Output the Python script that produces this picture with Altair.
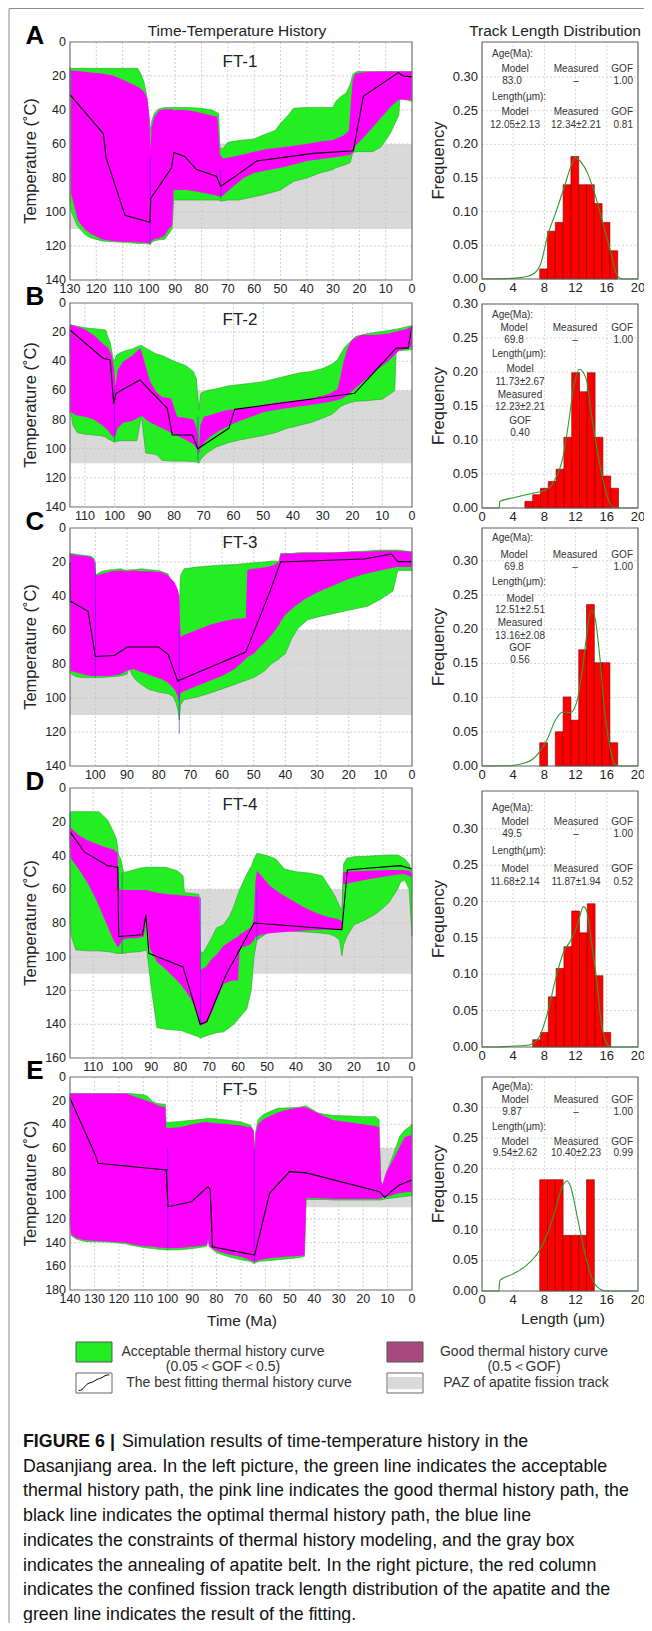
import altair as alt
import pandas as pd

W, H = 636, 1615
FONT = "Liberation Sans, Arial, Helvetica, sans-serif"
ONE = pd.DataFrame({"k": [0]})

# ================= FT-1 (A) =================
ft1_green_t = [130, 129.4, 127.3, 124.5, 122.5, 118, 114, 108, 104.3, 103, 102, 101, 100.2, 99.4, 99, 98, 96.5, 94, 92.5, 91.2, 90.6, 86, 80, 76, 73.5, 73, 72, 70, 66, 60, 57, 52, 50, 47, 45, 40, 35, 30, 29, 27, 25, 23.5, 22.5, 21, 15, 12, 10, 8, 6.5, 5, 4.6, 0]
ft1_green_top = [15.5, 15.5, 15.5, 15.5, 15.5, 15.5, 15.5, 15.5, 15.5, 19, 23, 30, 40, 52, 47, 42, 39.5, 38.5, 38.5, 38.5, 38.5, 38.5, 39, 40, 42, 62, 63, 59, 58, 57, 55, 52, 48, 43, 39, 38.5, 38.5, 38.5, 35, 32, 30, 25, 19, 17.4, 17.4, 17.4, 17.4, 17.4, 17.4, 17.4, 17.4, 17.4]
ft1_green_bot = [95, 100, 108, 113, 115, 117, 117.5, 118, 118.5, 118.5, 118.5, 118.5, 119, 119, 118, 117, 116.5, 116, 113, 110, 93, 93, 93, 93, 93, 93.5, 93.5, 93, 93, 91, 90, 88, 87, 84, 82, 80, 77, 75, 74, 73, 72, 71, 65, 64.5, 64.5, 62, 58, 53, 48, 43, 33, 35]
ft1_good_t = [129.6, 127, 124.5, 122, 118, 114, 110, 106, 104, 102, 100.6, 99.8, 99.4, 99, 98, 96, 94, 92.5, 91.2, 90.6, 86, 82, 77, 74, 73, 72, 68, 64, 60, 55, 50, 45, 40, 35, 30, 26, 24, 23.2, 22.5, 21.5, 19, 16, 12, 8, 5, 0]
ft1_good_top = [16.8, 17, 17.5, 18, 18.5, 19.5, 22, 25, 26.5, 29, 33, 45, 64, 50, 44, 40, 39.5, 39.5, 39.5, 40, 40, 41, 43, 44, 66, 68.5, 67.5, 66, 64.5, 63, 62, 61, 60, 58.6, 57.6, 55, 52, 35, 22, 18.5, 18, 17.5, 17.4, 17.4, 17.4, 17.4]
ft1_good_bot = [89, 105, 110, 113, 116, 117, 117.5, 117.5, 118, 118, 118.2, 118.3, 118.3, 117, 116, 115.5, 114, 110, 108, 87, 87, 88, 89.5, 90.5, 91, 90.5, 85, 80, 77, 75.5, 74, 72, 70, 69, 68, 67, 66.5, 66, 65, 61, 57, 52, 45, 38, 34, 34]
ft1_best_t = [130, 117.3, 116.3, 109.1, 99.6, 99.3, 91.4, 90.5, 86.3, 81.9, 74.3, 72.7, 59, 37.5, 22.3, 18.5, 5.2, 3.3, 0]
ft1_best_T = [31, 54, 68, 102, 106, 92, 74, 65, 67.5, 75, 79, 85, 70, 65.5, 64, 32, 18, 20, 20.5]
ft1_con_t = [130, 99.5, 72.7]
ft1_con_lo = [15, 68, 75]
ft1_con_hi = [33, 119, 92]

# ================= FT-2 (B) =================
ft2_green_t = [115, 114.6, 114, 112.5, 110, 105, 103, 102.5, 101.5, 100.5, 100, 99.5, 98, 96, 94, 92.5, 91, 90.3, 89.5, 86, 84, 80, 76, 73.5, 72.5, 71.7, 71, 69, 66, 62, 58, 54, 50, 46, 42, 38, 34, 30, 27, 25, 24, 22.5, 21, 19, 15, 10, 7, 5.8, 5.3, 0]
ft2_green_top = [15, 15, 15.5, 16, 17, 18, 18.5, 22, 27, 38, 40, 36, 34, 32.5, 31.5, 30, 29, 30, 31, 35, 36, 40, 43, 47, 52, 73, 62, 60, 59, 57, 56, 55, 54, 52, 50, 48, 47, 45, 42, 39, 35, 30, 27, 23, 21, 19.5, 18.5, 18, 18, 15.5]
ft2_green_bot = [76, 76, 84, 89, 90, 91, 92, 93, 94, 95, 95.5, 95, 94.5, 94.5, 94.5, 94.5, 77, 90, 103, 104, 108, 108.5, 108.5, 108.8, 109, 110, 107, 103, 99, 96, 94, 92.5, 91, 89, 86, 84, 82, 79, 76.5, 73, 71, 69.5, 68.5, 67.5, 67, 66, 62, 60, 33, 32]
ft2_good_t = [115, 114.6, 113, 110, 107, 104, 102, 101, 100.2, 99.7, 99, 97, 94, 91.5, 91, 89.5, 88, 86, 84, 81, 79, 76, 73.5, 72.3, 71.7, 71.2, 70, 68, 65, 62, 58, 54, 50, 46, 40, 34, 28, 25, 24, 23, 21.5, 20, 17, 12, 8, 4.5, 2, 0]
ft2_good_top = [15, 15, 16, 18, 22, 28, 31, 36, 45, 57, 46, 40, 36, 31, 33, 44, 54, 61, 64.5, 65.5, 78, 79, 80, 87, 103, 84, 78, 77, 75, 73.5, 72.5, 71.5, 70, 68.5, 67, 65.5, 62.5, 59, 50, 40, 30, 25, 22, 22, 21, 19, 18, 16]
ft2_good_bot = [75, 75, 77, 78, 80, 84, 88, 91, 92, 91, 86, 82, 81, 78, 77, 80, 82, 84, 86, 89, 91, 94, 97, 100, 104, 100, 96, 92, 88, 84.5, 81, 78, 75, 73.5, 71.5, 70, 68, 66.5, 66, 65, 63, 60, 55, 46, 40, 33, 31, 30]
ft2_best_t = [115, 103.8, 101.5, 100.3, 99.5, 91.5, 82.3, 80.6, 73.9, 72, 61.6, 59.6, 19.3, 5.3, 1.3, 0]
ft2_best_T = [18.5, 38, 39, 69, 62, 52.8, 72.3, 90.6, 90.6, 100, 86, 73, 62, 31, 31, 16]
ft2_con_t = [115, 100, 72]
ft2_con_lo = [16, 58, 78]
ft2_con_hi = [35, 95, 108]

# ================= FT-3 (C) =================
ft3_green_t = [108, 107.5, 106, 104, 101.5, 100.4, 99.9, 98, 95, 92, 90, 89.3, 88.5, 87.5, 85.5, 83, 80, 77, 75.5, 74.5, 73.8, 73.5, 73.1, 72, 68, 62, 56, 50, 46.5, 44.5, 42, 41.5, 40, 38, 36, 33, 29, 24, 19, 14, 10, 6, 4.5, 0]
ft3_green_top = [15, 15, 15.5, 16, 16.5, 18, 27.5, 25.5, 24.5, 24, 25, 24.5, 24.5, 24.5, 24, 24.5, 25, 27, 35, 37, 45, 47.5, 28, 24, 23, 22, 21.5, 20.5, 20, 19.5, 19.5, 15, 15, 15, 14.5, 14.5, 14.5, 14.5, 14, 13.5, 13, 13, 13, 14]
ft3_green_bot = [85, 86, 87.5, 88, 88, 88, 88, 88, 87.5, 87, 86, 82, 86, 89, 92, 95, 96.5, 97.5, 99, 103, 108, 113, 104, 101, 99.5, 96, 92, 88, 84, 80, 77, 76, 74, 65, 59, 54, 52, 50, 48, 46, 42, 37, 25, 25]
ft3_good_t = [108, 106, 103, 101.5, 100.4, 99.9, 98, 95, 92, 90, 88, 85, 82, 79, 77, 75, 74, 73.5, 73.1, 72, 68, 64, 60, 56, 52.5, 52, 50, 48, 46, 44, 42, 41.5, 40, 37, 34, 30, 25, 20, 15, 10, 5, 0]
ft3_good_top = [15.5, 16, 16.5, 17, 18.5, 28, 27, 25.5, 25, 25.5, 25, 25.5, 25.5, 26, 28, 32, 36, 40, 64, 63, 60, 57, 55, 53.5, 53, 24.5, 24, 23.5, 23, 22, 20, 15.5, 15, 15, 14.5, 14.5, 14.5, 14, 14, 13.5, 13.5, 14]
ft3_good_bot = [84, 85, 86.5, 87, 87, 87, 87, 87, 86, 84, 83, 85, 87, 89, 91, 95, 99, 103, 97, 96, 93, 90, 87, 83, 77, 76, 74, 70, 66.5, 62, 57, 55, 51, 46, 42, 38, 34, 30, 27, 25, 23, 23]
ft3_best_t = [108, 107.9, 102.3, 100, 94, 89.9, 80, 77, 74, 52.5, 45, 41.5, 15, 6.5, 4.5, 0]
ft3_best_T = [20, 43, 49, 75.6, 75, 70, 70, 74.5, 90, 73, 38, 20, 18.2, 15.3, 19.8, 19.8]
ft3_con_t = [108, 100, 73.5]
ft3_con_lo = [15, 20, 60]
ft3_con_hi = [45, 88, 121]

# ================= FT-4 (D) =================
ft4_green_t = [118, 117.5, 116, 112, 108, 105, 103, 102, 101.2, 100.5, 99.5, 98, 94, 91.5, 90, 89, 88, 85, 81, 79, 78.5, 73.5, 73.1, 72, 69.5, 67.5, 65, 63, 61.5, 59.5, 57, 55.5, 54.5, 53.5, 50, 47, 44, 40, 35, 31, 28.5, 26.5, 25, 24.2, 23.6, 22.5, 20, 16, 12, 8, 5, 4, 2.5, 1, 0]
ft4_green_top = [14, 14, 14, 14, 14, 19, 26, 30, 40, 42, 50, 49.5, 47.5, 47, 47, 47, 47, 47, 49, 52, 62, 63, 97, 97.5, 90, 83, 81, 76, 70.3, 60.4, 51, 46.6, 42, 38.7, 40, 42, 48, 49.6, 50.5, 52, 58.5, 64.4, 70, 72.3, 45, 41.7, 40.7, 40.5, 40, 39.7, 39.7, 40.5, 42, 45, 50]
ft4_green_bot = [80, 88, 96, 96.5, 96.5, 97, 97.5, 98, 98, 98, 98, 97.5, 97, 96, 118, 130, 142, 143, 143.5, 144, 144.5, 147.5, 148.5, 147.5, 146, 145, 144.5, 142, 140, 136, 131, 120, 100, 90, 86, 84, 84.5, 85, 85.5, 86, 86.5, 88, 90, 99.5, 93, 88, 81, 78, 74, 68, 60, 56, 54.5, 60, 88]
ft4_good_t = [118, 117.5, 115, 112, 109, 106, 103, 101.6, 101.2, 100, 98, 95, 92.5, 91.5, 90.5, 88, 84, 80, 77, 74.5, 73.3, 73, 71, 69, 67.5, 65, 62, 60, 59.5, 56, 55, 54.5, 54, 53.5, 52, 49, 45, 41, 37, 33, 29, 26, 24.5, 24.2, 23.8, 22, 15, 8, 3, 1, 0]
ft4_good_top = [23, 24, 28, 31, 33, 35, 36.5, 38.5, 60, 60.4, 60.4, 60.4, 60.4, 60.4, 61, 62, 63, 63.5, 64, 64.4, 64.4, 107.8, 105.8, 101, 99, 93.5, 90, 88, 87, 83, 81, 75, 55, 49, 52, 58, 63, 67, 71, 74, 76.5, 77.5, 78.5, 79, 50, 49.5, 49, 48.6, 48.6, 49, 51]
ft4_good_bot = [35, 42, 48, 56, 66, 78, 90, 94, 94, 90, 89, 89, 88, 76, 95, 103, 109, 116, 123, 131, 140, 141, 139, 133, 126, 116, 114, 114, 95, 93, 91, 90, 88, 88, 87, 86, 85.5, 85, 84.5, 84, 84, 84, 84, 84, 57, 56.5, 54, 52, 51, 52, 53]
ft4_best_t = [118, 113, 105, 101.5, 101.2, 93, 91.8, 90.8, 79, 73.1, 70.8, 64, 59.5, 54.5, 24.2, 22.3, 15.5, 4, 0]
ft4_best_T = [26, 38, 46, 47, 88, 87, 75, 98, 106, 140, 138.5, 110, 96, 80, 84, 48.6, 47.6, 46, 48]
ft4_con_t = [118, 100, 73, 53.5]
ft4_con_lo = [15, 50, 65, 60]
ft4_con_hi = [35, 98, 140, 90]

# ================= FT-5 (E) =================
ft5_green_t = [140, 139.5, 137.5, 134, 125, 117, 115.5, 110, 108.5, 106, 104, 101, 100.6, 95, 90, 85, 84, 83.5, 83, 80, 75, 70, 66, 64.8, 64.4, 64, 63, 61, 58, 55, 50, 46, 44, 43.3, 42, 39, 36, 32, 25, 20, 15, 13.5, 12.7, 12, 11, 9, 7, 5, 3, 1, 0]
ft5_green_top = [14, 14, 14, 14, 14, 14, 14, 15, 16, 21, 22.5, 23, 38.6, 37.5, 36.5, 35.5, 35, 35, 35, 35.5, 36.5, 38, 41, 46, 62, 46, 36, 32, 29, 26.5, 26, 25.5, 24.5, 24.5, 26, 30, 31.5, 32.5, 33, 33.5, 33.5, 36, 88, 91, 84, 73, 62, 50, 45, 42, 40]
ft5_green_bot = [124, 134, 137, 139, 139.5, 141, 142, 144, 144.5, 145, 145.5, 146, 146.2, 146, 145, 143.5, 143, 137, 143.5, 148.5, 152, 154.5, 156, 157.5, 157.5, 157, 156, 155.5, 155, 154.5, 153.5, 152.5, 151.5, 103.5, 103.5, 103.5, 103.5, 104, 104, 104, 104, 104, 104, 103.5, 103, 102.5, 102, 101.5, 101, 100.5, 100]
ft5_good_t = [140, 139.5, 137.5, 134, 125, 117, 115.5, 113, 110, 106, 104, 101, 100.6, 95, 90, 86, 84, 83.5, 83, 80, 75, 70, 66, 64.8, 64.4, 64, 63, 61, 58, 55, 52, 48, 45, 44, 43.3, 40, 36, 32, 25, 20, 15, 13.5, 12.7, 12, 10.5, 9, 7, 5, 3, 1, 0]
ft5_good_top = [14, 14, 14, 14, 14, 14, 15, 17, 19, 22, 24, 25.5, 43.4, 42.5, 40, 38.5, 38, 38.5, 38.5, 39, 40, 41, 42.5, 45, 64, 48, 40, 36, 33, 30, 28, 26.5, 25.5, 25.5, 26, 29, 33, 36.5, 38.5, 40, 41.5, 42.5, 88, 91, 80, 75, 67, 59, 51, 49.5, 49]
ft5_good_bot = [120, 133, 136, 138, 139, 140, 141, 142, 143, 143.5, 144, 144.5, 144.8, 144.5, 143.5, 142.5, 142, 136, 143, 147, 150, 152, 155, 156, 156.5, 156, 155, 154, 153, 152.5, 152, 151.5, 151, 150.5, 102.5, 102.5, 102.7, 103, 103, 103, 103, 103, 102.5, 102, 101.5, 100.5, 99, 98, 97.5, 97, 97]
ft5_best_t = [140, 129.9, 128.5, 100.6, 99.9, 90.3, 83.5, 82.6, 81.7, 64.4, 58.3, 50.1, 43.3, 13.2, 11.2, 7.8, 5.1, 0]
ft5_best_T = [18, 64.6, 72.9, 78.5, 109.6, 105.4, 92.7, 95.5, 143.4, 150.5, 98.3, 80, 81, 97, 101.7, 95.5, 91.3, 87.1]
ft5_con_t = [140, 100, 64.5]
ft5_con_lo = [14, 60, 60]
ft5_con_hi = [30, 145, 156]

paz_range = [60, 110]

# ================= Track length histograms =================
h1_edges = [7.4, 8.4, 9.4, 10.4, 11.4, 12.4, 13.4, 14.4, 15.4, 16.4, 17.4]
h1_freq = [0.015, 0.071, 0.084, 0.14, 0.182, 0.14, 0.14, 0.112, 0.084, 0.042]
h1_fit_len = [0, 3, 5, 6.5, 7.5, 8.5, 9.5, 10.5, 11.5, 12, 12.5, 13.5, 14.5, 15.5, 16.5, 17.3, 18, 20]
h1_fit_f = [0, 0.0005, 0.002, 0.007, 0.022, 0.068, 0.1, 0.135, 0.17, 0.18, 0.176, 0.158, 0.125, 0.083, 0.04, 0.006, 0, 0]

h2_edges = [5.5, 6.5, 7.5, 8.5, 9.5, 10.5, 11.5, 12.5, 13.5, 14.5, 15.5, 16.5, 17.5]
h2_freq = [0.0098, 0.0196, 0.029, 0.039, 0.057, 0.104, 0.199, 0.171, 0.199, 0.104, 0.047, 0.029]
h2_fit_len = [0, 2.2, 2.3, 4, 6.6, 8.3, 9.1, 10.4, 11.1, 11.7, 12.5, 13.4, 14, 14.7, 15.5, 16.2, 16.8, 17.5, 20]
h2_fit_f = [0, 0, 0.0098, 0.015, 0.022, 0.027, 0.037, 0.076, 0.125, 0.174, 0.204, 0.188, 0.14, 0.09, 0.042, 0.012, 0.001, 0, 0]

h3_edges = [7.4, 8.4, 9.4, 10.4, 11.4, 12.4, 13.4, 14.4, 15.4, 16.4, 17.4]
h3_freq = [0.034, 0, 0.05, 0.101, 0.067, 0.17, 0.236, 0.151, 0.151, 0.034]
h3_fit_len = [0, 3, 5, 6.6, 7.4, 8.4, 9.4, 10.4, 11.3, 12.1, 12.8, 13.4, 14, 14.5, 15.1, 15.7, 16.4, 17, 17.7, 20]
h3_fit_f = [0, 0.0003, 0.003, 0.011, 0.021, 0.04, 0.067, 0.079, 0.078, 0.092, 0.135, 0.189, 0.228, 0.216, 0.16, 0.082, 0.028, 0.003, 0, 0]

h4_edges = [6.5, 7.5, 8.5, 9.5, 10.5, 11.5, 12.5, 13.5, 14.5, 15.5, 16.5]
h4_freq = [0.01, 0.02, 0.069, 0.108, 0.138, 0.187, 0.157, 0.197, 0.098, 0.02]
h4_fit_len = [0, 2, 3.6, 5.5, 6.5, 7.4, 8.4, 9.4, 10.4, 11.4, 12.3, 13, 13.4, 14, 14.7, 15.3, 16, 16.6, 20]
h4_fit_f = [0, 0, 0.001, 0.002, 0.0046, 0.015, 0.047, 0.092, 0.129, 0.147, 0.17, 0.193, 0.188, 0.147, 0.092, 0.033, 0.005, 0, 0]

h5_edges = [7.4, 8.4, 9.4, 10.4, 11.4, 12.4, 13.4, 14.4]
h5_freq = [0.182, 0.182, 0.182, 0.091, 0.091, 0.091, 0.182]
h5_fit_len = [0, 2.15, 2.3, 4, 5.7, 7.4, 8.4, 9.4, 10.3, 10.9, 11.3, 12.3, 13.3, 14.3, 15.3, 16, 20]
h5_fit_f = [0, 0, 0.0175, 0.028, 0.042, 0.067, 0.094, 0.132, 0.171, 0.18, 0.173, 0.116, 0.056, 0.015, 0.002, 0, 0]

# annotation strings
ages_model = ["83.0", "69.8", "69.8", "49.5", "9.87"]
len_model = ["12.05±2.13", "11.73±2.67", "12.51±2.51", "11.68±2.14", "9.54±2.62"]
len_meas = ["12.34±2.21", "12.23±2.21", "13.16±2.08", "11.87±1.94", "10.40±2.23"]
len_gof = ["0.81", "0.40", "0.56", "0.52", "0.99"]

hist_xticks = [0, 4, 8, 12, 16, 20]
hist_yticks = [0, 0.05, 0.10, 0.15, 0.20, 0.25, 0.30]

caption_lines = [
    "Simulation results of time-temperature history in the",
    "Dasanjiang area. In the left picture, the green line indicates the acceptable",
    "thermal history path, the pink line indicates the good thermal history path, the",
    "black line indicates the optimal thermal history path, the blue line",
    "indicates the constraints of thermal history modeling, and the gray box",
    "indicates the annealing of apatite belt. In the right picture, the red column",
    "indicates the confined fission track length distribution of the apatite and the",
    "green line indicates the result of the fitting.",
]

GREEN = "#22ee22"
MAGENTA = "#ff00ff"
PAZ = "#d9d9d9"
TXT = "#222222"


def tt_panel(letter, name, tmax, Tmax, top, bot, xticks, yticks,
             g_t, g_top, g_bot, m_t, m_top, m_bot, b_t, b_T, c_t, c_lo, c_hi,
             name_off, xtitle=None, header=False):
    X0, X1 = 70, 412
    sx = alt.Scale(domain=[0, tmax], range=[X1 - 8, X0 - 8], nice=False, zero=False)
    sy = alt.Scale(domain=[0, Tmax], range=[top - 8, bot - 8], nice=False, zero=False)

    def dt(p):
        return tmax * (X1 - p) / (X1 - X0)

    def dT(p):
        return Tmax * (p - top) / (bot - top)

    def xq(f):
        return alt.X(f, scale=sx, axis=None)

    def yq(f):
        return alt.Y(f, scale=sy, axis=None)

    def xd(v):
        return alt.XDatum(v, scale=sx, axis=None)

    def yd(v):
        return alt.YDatum(v, scale=sy, axis=None)

    layers = []
    layers.append(alt.Chart(pd.DataFrame({"lo": [paz_range[0]], "hi": [paz_range[1]]})).mark_rect(color=PAZ).encode(
        x=xd(0), x2=alt.X2Datum(tmax), y=yq("lo:Q"), y2="hi:Q"))
    layers.append(alt.Chart(pd.DataFrame({"v": [v for v in xticks if 0 < v < tmax]})).mark_rule(
        color="#c4c4c4", strokeDash=[2, 2], strokeWidth=0.8).encode(
        x=xq("v:Q"), y=yd(0), y2=alt.Y2Datum(Tmax)))
    layers.append(alt.Chart(pd.DataFrame({"v": [v for v in yticks if 0 < v < Tmax]})).mark_rule(
        color="#c4c4c4", strokeDash=[2, 2], strokeWidth=0.8).encode(
        y=yq("v:Q"), x=xd(0), x2=alt.X2Datum(tmax)))
    layers.append(alt.Chart(pd.DataFrame({"t": g_t, "top": g_top, "bot": g_bot})).mark_area(
        color=GREEN, stroke="#30a030", strokeWidth=0.6).encode(x=xq("t:Q"), y=yq("top:Q"), y2="bot:Q"))
    layers.append(alt.Chart(pd.DataFrame({"t": m_t, "top": m_top, "bot": m_bot})).mark_area(
        color=MAGENTA).encode(x=xq("t:Q"), y=yq("top:Q"), y2="bot:Q"))
    layers.append(alt.Chart(pd.DataFrame({"t": c_t, "lo": c_lo, "hi": c_hi})).mark_rule(
        color="#3a3ac8", strokeWidth=0.8, opacity=0.8).encode(x=xq("t:Q"), y=yq("lo:Q"), y2="hi:Q"))
    layers.append(alt.Chart(pd.DataFrame({"t": b_t, "T": b_T})).mark_line(
        color="black", strokeWidth=1.1).encode(x=xq("t:Q"), y=yq("T:Q")))
    layers.append(alt.Chart(ONE).mark_rect(fill="transparent", stroke="#707070", strokeWidth=1.2).encode(
        x=xd(0), x2=alt.X2Datum(tmax), y=yd(0), y2=alt.Y2Datum(Tmax)))
    # tick labels drawn through the panel scales
    xl = pd.DataFrame({"v": xticks, "s": [str(v) for v in xticks]})
    layers.append(alt.Chart(xl).mark_text(font=FONT, fontSize=12.5, color=TXT, align="center",
                                          baseline="middle").encode(
        x=xq("v:Q"), y=yd(dT(bot + 9)), text="s:N"))
    yl = pd.DataFrame({"v": yticks, "s": [str(v) for v in yticks]})
    layers.append(alt.Chart(yl).mark_text(font=FONT, fontSize=12.5, color=TXT, align="right",
                                          baseline="middle").encode(
        x=xd(dt(66)), y=yq("v:Q"), text="s:N"))
    layers.append(alt.Chart(ONE).mark_text(text="Temperature (˚C)", font=FONT, fontSize=16.5, color=TXT,
                                           align="center", baseline="middle", angle=270).encode(
        x=xd(dt(31)), y=yd(dT((top + bot) / 2))))
    if xtitle:
        layers.append(alt.Chart(ONE).mark_text(text=xtitle, font=FONT, fontSize=15.5, color=TXT,
                                               align="center", baseline="middle").encode(
            x=xd(dt(242)), y=yd(dT(1321))))
    layers.append(alt.Chart(ONE).mark_text(text=name, font=FONT, fontSize=17, color=TXT,
                                           align="center", baseline="middle").encode(
        x=xd(dt(240)), y=yd(dT(top + name_off))))
    layers.append(alt.Chart(ONE).mark_text(text=letter, font=FONT, fontSize=26, fontWeight="bold",
                                           color="black", align="center", baseline="middle").encode(
        x=xd(dt(35)), y=yd(dT(top - 6))))
    if header:
        layers.append(alt.Chart(ONE).mark_text(text="Time-Temperature History", font=FONT, fontSize=15.5,
                                               color=TXT, align="center", baseline="middle").encode(
            x=xd(dt(237)), y=yd(dT(31))))
    return alt.layer(*layers)


def hist_panel(top, bot, ymax, edges, freq, fit_len, fit_f, rows, xtitle=None, header=False):
    X0, X1 = 482, 638
    sx = alt.Scale(domain=[0, 20], range=[X0 - 8, X1 - 8], nice=False, zero=False)
    sy = alt.Scale(domain=[0, ymax], range=[bot - 8, top - 8], nice=False, zero=False)

    def du(p):
        return 20 * (p - X0) / (X1 - X0)

    def df_(p):
        return ymax * (bot - p) / (bot - top)

    def xq(f):
        return alt.X(f, scale=sx, axis=None)

    def yq(f):
        return alt.Y(f, scale=sy, axis=None)

    def xd(v):
        return alt.XDatum(v, scale=sx, axis=None)

    def yd(v):
        return alt.YDatum(v, scale=sy, axis=None)

    layers = []
    layers.append(alt.Chart(pd.DataFrame({"v": [4, 8, 12, 16]})).mark_rule(
        color="#cccccc", strokeDash=[2, 2], strokeWidth=0.8).encode(
        x=xq("v:Q"), y=yd(0), y2=alt.Y2Datum(ymax)))
    layers.append(alt.Chart(pd.DataFrame({"v": [v for v in hist_yticks if v > 0]})).mark_rule(
        color="#cccccc", strokeDash=[2, 2], strokeWidth=0.8).encode(
        y=yq("v:Q"), x=xd(0), x2=alt.X2Datum(20)))
    bars = pd.DataFrame({"lo": edges[:-1], "hi": edges[1:], "f": freq})
    bars = bars[bars["f"] > 0]
    layers.append(alt.Chart(bars).mark_rect(fill="#ff0000", stroke="#7a0000", strokeWidth=0.6).encode(
        x=xq("lo:Q"), x2="hi:Q", y=yq("f:Q"), y2=alt.Y2Datum(0)))
    layers.append(alt.Chart(pd.DataFrame({"u": fit_len, "f": fit_f})).mark_line(
        color="#2e9a2e", strokeWidth=1.1, interpolate="monotone").encode(x=xq("u:Q"), y=yq("f:Q")))
    layers.append(alt.Chart(ONE).mark_rect(fill="transparent", stroke="#606060", strokeWidth=1.2).encode(
        x=xd(0), x2=alt.X2Datum(20), y=yd(0), y2=alt.Y2Datum(ymax)))
    xl = pd.DataFrame({"v": hist_xticks, "s": [str(v) for v in hist_xticks]})
    layers.append(alt.Chart(xl).mark_text(font=FONT, fontSize=13, color=TXT, align="center",
                                          baseline="middle").encode(
        x=xq("v:Q"), y=yd(df_(bot + 9)), text="s:N"))
    yl = pd.DataFrame({"v": hist_yticks, "s": [f"{v:.2f}" for v in hist_yticks]})
    layers.append(alt.Chart(yl).mark_text(font=FONT, fontSize=13, color=TXT, align="right",
                                          baseline="middle").encode(
        x=xd(du(478)), y=yq("v:Q"), text="s:N"))
    layers.append(alt.Chart(ONE).mark_text(text="Frequency", font=FONT, fontSize=16.5, color=TXT,
                                           align="center", baseline="middle", angle=270).encode(
        x=xd(du(439)), y=yd(df_((top + bot) / 2))))
    if xtitle:
        layers.append(alt.Chart(ONE).mark_text(text=xtitle, font=FONT, fontSize=15.5, color=TXT,
                                               align="center", baseline="middle").encode(
            x=xd(du(563)), y=yd(df_(1319))))
    for (s, px, dy, al) in rows:
        layers.append(alt.Chart(ONE).mark_text(text=s, font=FONT, fontSize=10, color="#333333",
                                               align=al, baseline="middle").encode(
            x=xd(du(px)), y=yd(df_(top + dy))))
    if header:
        layers.append(alt.Chart(ONE).mark_text(text="Track Length Distribution", font=FONT, fontSize=15.5,
                                               color=TXT, align="center", baseline="middle").encode(
            x=xd(du(555)), y=yd(df_(31))))
    return alt.layer(*layers)


def rows_wide(i, d):
    return [
        ("Age(Ma):", 492, d[0], "left"),
        ("Model", 515, d[1], "center"), ("Measured", 576, d[1], "center"), ("GOF", 633, d[1], "right"),
        (ages_model[i], 512, d[2], "center"), ("–", 576, d[2], "center"), ("1.00", 633, d[2], "right"),
        ("Length(μm):", 492, d[3], "left"),
        ("Model", 515, d[4], "center"), ("Measured", 576, d[4], "center"), ("GOF", 633, d[4], "right"),
        (len_model[i], 515, d[5], "center"), (len_meas[i], 576, d[5], "center"), (len_gof[i], 633, d[5], "right"),
    ]


def rows_stacked(i, d):
    return [
        ("Age(Ma):", 492, d[0], "left"),
        ("Model", 514, d[1], "center"), ("Measured", 575, d[1], "center"), ("GOF", 633, d[1], "right"),
        (ages_model[i], 514, d[2], "center"), ("–", 575, d[2], "center"), ("1.00", 633, d[2], "right"),
        ("Length(μm):", 492, d[3], "left"),
        ("Model", 520, d[4], "center"), (len_model[i], 520, d[5], "center"),
        ("Measured", 520, d[6], "center"), (len_meas[i], 520, d[7], "center"),
        ("GOF", 520, d[8], "center"), (len_gof[i], 520, d[9], "center"),
    ]


tt = [
    tt_panel("A", "FT-1", 130, 140, 42, 280, list(range(0, 131, 10)), list(range(0, 141, 20)),
             ft1_green_t, ft1_green_top, ft1_green_bot, ft1_good_t, ft1_good_top, ft1_good_bot,
             ft1_best_t, ft1_best_T, ft1_con_t, ft1_con_lo, ft1_con_hi, 20, header=True),
    tt_panel("B", "FT-2", 115, 140, 303, 507, list(range(0, 111, 10)), list(range(0, 141, 20)),
             ft2_green_t, ft2_green_top, ft2_green_bot, ft2_good_t, ft2_good_top, ft2_good_bot,
             ft2_best_t, ft2_best_T, ft2_con_t, ft2_con_lo, ft2_con_hi, 17),
    tt_panel("C", "FT-3", 108, 140, 528, 766, list(range(0, 101, 10)), list(range(0, 141, 20)),
             ft3_green_t, ft3_green_top, ft3_green_bot, ft3_good_t, ft3_good_top, ft3_good_bot,
             ft3_best_t, ft3_best_T, ft3_con_t, ft3_con_lo, ft3_con_hi, 15),
    tt_panel("D", "FT-4", 118, 160, 788, 1058, list(range(0, 111, 10)), list(range(0, 161, 20)),
             ft4_green_t, ft4_green_top, ft4_green_bot, ft4_good_t, ft4_good_top, ft4_good_bot,
             ft4_best_t, ft4_best_T, ft4_con_t, ft4_con_lo, ft4_con_hi, 17),
    tt_panel("E", "FT-5", 140, 180, 1077, 1290, list(range(0, 141, 10)), list(range(0, 181, 20)),
             ft5_green_t, ft5_green_top, ft5_green_bot, ft5_good_t, ft5_good_top, ft5_good_bot,
             ft5_best_t, ft5_best_T, ft5_con_t, ft5_con_lo, ft5_con_hi, 13, xtitle="Time (Ma)"),
]

hs = [
    hist_panel(42, 279, 0.352, h1_edges, h1_freq, h1_fit_len, h1_fit_f,
               rows_wide(0, [12, 27, 39, 55, 70, 83]), header=True),
    hist_panel(304, 508, 0.30, h2_edges, h2_freq, h2_fit_len, h2_fit_f,
               rows_stacked(1, [11, 24, 36, 50, 65, 78, 91, 103, 117, 129])),
    hist_panel(528, 766, 0.348, h3_edges, h3_freq, h3_fit_len, h3_fit_f,
               rows_stacked(2, [10, 27, 39, 54, 71, 82, 95, 108, 120, 132])),
    hist_panel(791, 1047, 0.352, h4_edges, h4_freq, h4_fit_len, h4_fit_f,
               rows_wide(3, [17, 31, 43, 60, 78, 91])),
    hist_panel(1077, 1291, 0.35, h5_edges, h5_freq, h5_fit_len, h5_fit_f,
               rows_wide(4, [10, 23, 35, 50, 65, 76]), xtitle="Length (μm)"),
]

# ---------------- legend ----------------
lx = alt.Scale(domain=[0, 1], range=[94 - 8, 405 - 8])
ly = alt.Scale(domain=[0, 1], range=[1352 - 8, 1383 - 8])
RECT = "M-1,-0.556L1,-0.556L1,0.556L-1,0.556Z"
BAND = "M-0.95,-0.33L0.95,-0.33L0.95,0.33L-0.95,0.33Z"
CURVE = "M-0.85,0.42C-0.55,0.42 -0.5,0.05 -0.25,0.0C0.0,-0.05 0.1,-0.2 0.3,-0.25C0.55,-0.3 0.55,-0.45 0.85,-0.45"


def sym(col, row, shape, fill, stroke, sw=1.0):
    return alt.Chart(ONE).mark_point(shape=shape, size=1296, filled=True, fill=fill, stroke=stroke,
                                     strokeWidth=sw, opacity=1).encode(
        x=alt.XDatum(col, scale=lx, axis=None), y=alt.YDatum(row, scale=ly, axis=None))


def ltext(col, row, s, dx):
    return alt.Chart(ONE).mark_text(text=s, font=FONT, fontSize=14, color="#333333", align="center",
                                    baseline="middle", lineBreak="\n", lineHeight=15, dx=dx).encode(
        x=alt.XDatum(col, scale=lx, axis=None), y=alt.YDatum(row, scale=ly, axis=None))


legend = alt.layer(
    sym(0, 0, RECT, GREEN, "#555555"),
    sym(1, 0, RECT, "#a9477f", "#555555"),
    sym(0, 1, RECT, "white", "#666666"),
    alt.Chart(ONE).mark_point(shape=CURVE, size=1296, filled=False, stroke="black", strokeWidth=1,
                              opacity=1).encode(
        x=alt.XDatum(0, scale=lx, axis=None), y=alt.YDatum(1, scale=ly, axis=None)),
    sym(1, 1, RECT, "white", "#666666"),
    sym(1, 1, BAND, PAZ, PAZ, 0.1),
    ltext(0, 0, "Acceptable thermal history curve\n(0.05＜GOF＜0.5)", 129),
    ltext(1, 0, "Good thermal history curve\n(0.5＜GOF)", 119),
    ltext(0, 1, "The best fitting thermal history curve", 145),
    ltext(1, 1, "PAZ of  apatite fission track", 121),
)

# ---------------- caption ----------------
CAP_SIZE = 17.8
cx = alt.Scale(domain=[0, 1], range=[15, 630])
cy = alt.Scale(domain=[0, 7], range=[1442 - 8, 1615 - 8])
cap_df = pd.DataFrame({"i": list(range(len(caption_lines))), "s": caption_lines})
caption = alt.layer(
    alt.Chart(ONE).mark_text(text="FIGURE 6 |", font=FONT, fontSize=CAP_SIZE, fontWeight="bold",
                             color="#111111", align="left", baseline="middle").encode(
        x=alt.XDatum(0, scale=cx, axis=None), y=alt.YDatum(0, scale=cy, axis=None)),
    alt.Chart(cap_df[cap_df["i"] == 0]).mark_text(font=FONT, fontSize=CAP_SIZE, color="#111111",
                                                 align="left", baseline="middle", dx=99).encode(
        x=alt.XDatum(0, scale=cx, axis=None), y=alt.Y("i:Q", scale=cy, axis=None), text="s:N"),
    alt.Chart(cap_df[cap_df["i"] > 0]).mark_text(font=FONT, fontSize=CAP_SIZE, color="#111111",
                                                align="left", baseline="middle").encode(
        x=alt.XDatum(0, scale=cx, axis=None), y=alt.Y("i:Q", scale=cy, axis=None), text="s:N"),
)

# ---------------- outer frame ----------------
fx = alt.Scale(domain=[0, 1], range=[1, W])
fy = alt.Scale(domain=[0, 1], range=[0.5, H])
frame = alt.layer(
    alt.Chart(ONE).mark_rule(color="#8c8c8c", strokeWidth=1).encode(
        x=alt.XDatum(0, scale=fx, axis=None), x2=alt.X2Datum(1), y=alt.YDatum(0, scale=fy, axis=None)),
    alt.Chart(ONE).mark_rule(color="#8c8c8c", strokeWidth=1).encode(
        x=alt.XDatum(0, scale=fx, axis=None), y=alt.YDatum(0, scale=fy, axis=None), y2=alt.Y2Datum(1)),
)

chart = alt.layer(*tt, *hs, legend, caption, frame).resolve_scale(
    x="independent", y="independent"
).properties(
    width=W, height=H, padding=0, autosize=alt.AutoSizeParams(type="none"), background="white"
).configure_view(strokeWidth=0)

chart.save("out.html", embed_options={"renderer": "svg", "actions": False})
